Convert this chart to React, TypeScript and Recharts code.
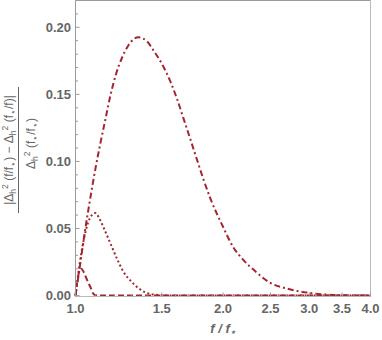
import { LineChart, Line, XAxis, YAxis, ReferenceLine } from "recharts";

// f / f* sample points and values, one pair of arrays per curve
const dashedF = [1.0, 1.008, 1.016, 1.027, 1.038, 1.048, 1.06, 1.073, 1.088, 1.1, 1.15, 4.0];
const dashedV = [0, 0.01, 0.017, 0.02, 0.018, 0.0144, 0.0102, 0.0062, 0.0012, 0.0002, 0, 0];

const dottedF = [1.0, 1.02, 1.04, 1.06, 1.08, 1.098, 1.12, 1.14, 1.178, 1.217, 1.252, 1.306, 1.356, 1.421, 1.5, 1.6, 4.0];
const dottedV = [0, 0.024, 0.042, 0.054, 0.06, 0.0615, 0.057, 0.051, 0.039, 0.027, 0.018, 0.0097, 0.0045, 0.0012, 0.0003, 0, 0];

const dashDotF = [
  1.0, 1.02, 1.048, 1.073, 1.098, 1.124, 1.151, 1.178, 1.206, 1.245, 1.282, 1.343, 1.4, 1.441, 1.51, 1.56, 1.612,
  1.658, 1.714, 1.771, 1.821, 1.882, 2.0, 2.096, 2.198, 2.345, 2.491, 2.7, 2.967, 3.257, 3.5, 4.0,
];
const dashDotV = [
  0, 0.021, 0.0506, 0.0735, 0.0945, 0.1135, 0.1315, 0.149, 0.1635, 0.1775, 0.1865, 0.1926, 0.1895, 0.183, 0.171,
  0.16, 0.1465, 0.133, 0.117, 0.101, 0.0875, 0.073, 0.0513, 0.0364, 0.0268, 0.0171, 0.0097, 0.0052, 0.0022, 0.0007,
  0.0002, 0,
];

const xMajor = [1.0, 1.5, 2.0, 2.5, 3.0, 3.5, 4.0];
const xTicks = [
  1.0, 1.1, 1.2, 1.3, 1.4, 1.5, 1.6, 1.7, 1.8, 1.9, 2.0, 2.1, 2.2, 2.3, 2.4, 2.5, 2.6, 2.7, 2.8, 2.9, 3.0, 3.1, 3.2,
  3.3, 3.4, 3.5, 3.6, 3.7, 3.8, 3.9, 4.0,
];
const yMajor = [0, 0.05, 0.1, 0.15, 0.2];
const yTicks = [
  0, 0.01, 0.02, 0.03, 0.04, 0.05, 0.06, 0.07, 0.08, 0.09, 0.1, 0.11, 0.12, 0.13, 0.14, 0.15, 0.16, 0.17, 0.18, 0.19,
  0.2, 0.21, 0.22,
];

const zip = (fs: number[], vs: number[]) => fs.map((f, i) => ({ f, v: vs[i] }));
const dashedData = zip(dashedF, dashedV);
const dottedData = zip(dottedF, dottedV);
const dashDotData = zip(dashDotF, dashDotV);

const RED = "#a3262f";
const FRAME = "#9a9a9a";
const TEXT = "#666";
const FONT = "'Liberation Sans', Arial, sans-serif";

const isIn = (list: number[], v: number) => list.some((m) => Math.abs(m - v) < 1e-9);

const YTick = (props: any) => {
  const { x, y, payload } = props;
  const major = isIn(yMajor, payload.value);
  const axisX = x + 4.5;
  return (
    <g>
      <line x1={axisX} x2={axisX + (major ? 4 : 2.5)} y1={y} y2={y} stroke={FRAME} />
      {major && (
        <text x={x} y={y} dy="0.355em" textAnchor="end" fill={TEXT} fontSize={13} fontWeight="bold" fontFamily={FONT}>
          {payload.value.toFixed(2)}
        </text>
      )}
    </g>
  );
};

const XTick = (props: any) => {
  const { x, y, payload } = props;
  const major = isIn(xMajor, payload.value);
  const axisY = y - 7;
  return (
    <g>
      <line x1={x} x2={x} y1={axisY} y2={axisY - (major ? 4 : 2.5)} stroke={FRAME} />
      {major && (
        <text x={x} y={y} dy="0.71em" textAnchor="middle" fill={TEXT} fontSize={13} fontWeight="bold" fontFamily={FONT}>
          {payload.value.toFixed(1)}
        </text>
      )}
    </g>
  );
};

const XLabel = () => (
  <text x={223} y={333} textAnchor="middle" fill={TEXT} fontSize={13} fontWeight="bold" fontStyle="italic" fontFamily={FONT}>
    f / f<tspan fontSize={9} dy={2}>⋆</tspan>
  </text>
);

const Dh = ({ tail }: { tail: string }) => (
  <>
    <tspan>Δ</tspan>
    <tspan fontSize={8.5} dy={3}>h</tspan>
    <tspan fontSize={8.5} dy={-8}>2</tspan>
    <tspan dy={5}>{" (" + tail}</tspan>
  </>
);

const YLabel = () => (
  <g transform="translate(0,150) rotate(-90)" fill={TEXT} fontSize={12} fontFamily={FONT}>
    <text x={0} y={13} textAnchor="middle">
      <tspan>|</tspan>
      <Dh tail="f/f" />
      <tspan fontSize={8.5} dy={2.5}>⋆</tspan>
      <tspan dy={-2.5}>) − </tspan>
      <Dh tail="f" />
      <tspan fontSize={8.5} dy={2.5}>⋆</tspan>
      <tspan dy={-2.5}>/f)|</tspan>
    </text>
    <line x1={-63} x2={63} y1={18.5} y2={18.5} stroke={TEXT} />
    <text x={6.5} y={35} textAnchor="middle">
      <Dh tail="f" />
      <tspan fontSize={8.5} dy={2.5}>⋆</tspan>
      <tspan dy={-2.5}>/f</tspan>
      <tspan fontSize={8.5} dy={2.5}>⋆</tspan>
      <tspan dy={-2.5}>)</tspan>
    </text>
  </g>
);

export default function App() {
  return (
    <div style={{ position: "absolute", left: 0, top: 0, background: "#fff" }}>
      <LineChart width={382} height={340} margin={{ top: 0.5, right: 11.5, bottom: 0, left: 0.5 }}>
        <XAxis
          dataKey="f"
          type="number"
          scale="log"
          domain={[1, 4]}
          ticks={xTicks}
          interval={0}
          height={43.5}
          axisLine={{ stroke: "#bbb" }}
          tickLine={false}
          tickSize={0}
          tickMargin={7}
          tick={<XTick />}
          label={<XLabel />}
        />
        <YAxis
          type="number"
          domain={[-0.0007, 0.22]}
          ticks={yTicks}
          interval={0}
          width={75}
          axisLine={{ stroke: FRAME }}
          tickLine={false}
          tickSize={0}
          tickMargin={4.5}
          tick={<YTick />}
          label={<YLabel />}
        />
        <ReferenceLine y={0.22} stroke={FRAME} />
        <ReferenceLine x={4} stroke="#bbb" />
        <Line data={dashDotData} dataKey="v" type="monotone" stroke={RED} strokeWidth={2} strokeDasharray="6 3 2 3" dot={false} isAnimationActive={false} />
        <Line data={dottedData} dataKey="v" type="monotone" stroke={RED} strokeWidth={2} strokeDasharray="2 2.5" dot={false} isAnimationActive={false} />
        <Line data={dashedData} dataKey="v" type="monotone" stroke={RED} strokeWidth={2} strokeDasharray="6 3" dot={false} isAnimationActive={false} />
      </LineChart>
    </div>
  );
}
